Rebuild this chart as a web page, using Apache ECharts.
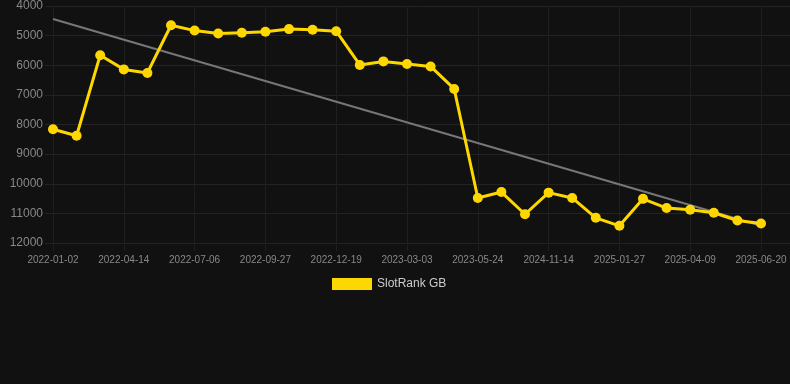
<!DOCTYPE html>
<html><head><meta charset="utf-8">
<script src="https://cdn.jsdelivr.net/npm/echarts@6/dist/echarts.min.js"></script>
<style>html,body{margin:0;padding:0;background:#111111;}#c{width:790px;height:384px;}</style>
</head><body><div id="c"></div>
<script>
var categories = ['2022-01-02','2022-01-27','2022-02-20','2022-04-14','2022-05-08','2022-06-01','2022-07-06','2022-07-30','2022-08-23','2022-09-27','2022-10-21','2022-11-14','2022-12-19','2023-01-12','2023-02-05','2023-03-03','2023-03-28','2023-04-21','2023-05-24','2023-06-17','2024-10-01','2024-11-14','2024-12-08','2025-01-01','2025-01-27','2025-02-20','2025-03-16','2025-04-09','2025-05-03','2025-05-27','2025-06-20'];
var rankValues = [8160,8380,5660,6140,6260,4650,4830,4930,4900,4870,4780,4800,4850,5990,5870,5960,6040,6800,10480,10280,11030,10300,10480,11150,11420,10510,10820,10880,10980,11240,11340];
var trendValues = [4440,null,null,null,null,null,null,null,null,null,null,null,null,null,null,null,null,null,null,null,null,null,null,null,null,null,null,null,null,null,11420];
var yMin = 4000, yMax = 12000, yStep = 1000;

var font = 'Arial, "Liberation Sans", sans-serif';
var chart = echarts.init(document.getElementById('c'));
chart.setOption({
  backgroundColor:'#111111',
  animation:false,
  grid:[
    {left:53,right:29,top:6,bottom:141,containLabel:false},
    {left:45,right:0,top:6,bottom:141,containLabel:false}
  ],
  legend:{data:['SlotRank GB'],top:273,left:327,itemWidth:40,itemHeight:12,icon:'rect',
    textStyle:{color:'#cccccc',fontSize:12,fontFamily:font},itemGap:10},
  xAxis:[
    {type:'category',gridIndex:0,data:categories,boundaryGap:false,
      axisLine:{show:false},
      axisTick:{show:true,interval:2,length:8,lineStyle:{color:'#1f1f1f',width:1}},
      axisLabel:{color:'#888888',fontSize:10,interval:2,margin:12,fontFamily:font},
      splitLine:{show:true,interval:2,lineStyle:{color:'#1f1f1f',width:1}}},
    {type:'value',gridIndex:1,show:false}
  ],
  yAxis:[
    {type:'value',gridIndex:0,inverse:true,min:yMin,max:yMax,interval:yStep,
      axisLine:{show:false},axisTick:{show:false},axisLabel:{show:false},splitLine:{show:false}},
    {type:'value',gridIndex:1,inverse:true,min:yMin,max:yMax,interval:yStep,
      axisLine:{show:false},axisTick:{show:false},
      axisLabel:{color:'#888888',fontSize:12,margin:2,fontFamily:font,formatter:function(v){return String(v);}},
      splitLine:{lineStyle:{color:'#232323',width:1}}}
  ],
  series:[
    {name:'Trend',type:'line',xAxisIndex:0,yAxisIndex:0,data:trendValues,connectNulls:true,showSymbol:false,symbol:'none',
      lineStyle:{color:'#777777',width:2},itemStyle:{color:'#777777'},z:1,silent:true},
    {name:'SlotRank GB',type:'line',xAxisIndex:0,yAxisIndex:0,data:rankValues,symbol:'circle',symbolSize:10,
      lineStyle:{color:'#FFD700',width:3},itemStyle:{color:'#FFD700'},z:2}
  ]
});
</script></body></html>
